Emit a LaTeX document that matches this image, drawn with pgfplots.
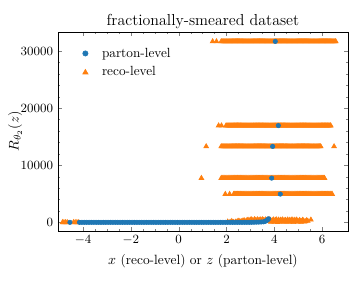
\documentclass[border=0pt]{standalone}
\usepackage{pgfplots}
\usepackage{pgfplotstable}
\pgfplotsset{compat=1.18}
\definecolor{mplblue}{HTML}{1F77B4}
\definecolor{mplorange}{HTML}{FF7F0E}

% reco-level points near R = 0
\pgfplotstableread{
x y
-4.86 0
-4.80 0
-4.73 0
-4.66 0
-4.40 0
-4.33 0
-4.26 0
-4.20 0
2.05 120
2.15 60
2.22 200
2.30 40
2.38 90
2.45 180
2.52 260
2.58 100
2.63 150
2.69 300
2.74 330
2.78 120
2.82 220
2.86 380
2.90 420
2.94 180
2.97 300
3.00 450
3.04 480
3.07 250
3.10 380
3.14 150
3.17 520
3.20 300
3.23 420
3.27 200
3.30 500
3.33 280
3.36 350
3.40 450
3.43 470
3.47 220
3.50 520
3.53 320
3.56 400
3.60 180
3.63 480
3.66 300
3.70 350
3.73 500
3.77 250
3.80 450
3.83 420
3.86 80
3.88 150
3.91 350
3.94 300
3.97 480
4.00 80
4.03 250
4.05 380
4.08 500
4.11 200
4.14 40
4.17 450
4.20 300
4.23 100
4.26 420
4.29 320
4.32 200
4.35 480
4.38 60
4.41 180
4.44 350
4.47 400
4.50 120
4.53 260
4.56 460
4.59 60
4.62 300
4.65 430
4.68 150
4.71 300
4.74 480
4.77 150
4.80 30
4.83 420
4.86 200
4.89 250
4.92 450
4.95 360
4.98 100
5.02 120
5.05 380
5.08 280
5.12 50
5.15 180
5.18 400
5.22 300
5.26 100
5.30 150
5.35 350
5.40 250
5.53 450
}\recobottom

% reco-level points in the five upper bands (nan = no point)
\pgfplotstableread{
x A B C D E
1.78 31700 nan 13300 7750 nan
1.82 31700 nan 13300 7750 nan
1.86 31700 nan 13300 7750 nan
1.90 31700 nan 13300 7750 nan
1.94 31700 nan 13300 7750 nan
1.98 31700 16950 13300 7750 nan
2.02 31700 16950 13300 7750 nan
2.06 31700 16950 13300 7750 nan
2.10 31700 16950 13300 7750 nan
2.14 31700 16950 13300 7750 nan
2.18 31700 16950 13300 7750 nan
2.22 31700 16950 13300 7750 nan
2.26 31700 16950 13300 7750 nan
2.30 31700 16950 13300 7750 4950
2.34 31700 16950 13300 7750 4950
2.38 31700 16950 13300 7750 4950
2.42 31700 16950 13300 7750 4950
2.46 31700 16950 13300 7750 4950
2.50 31700 16950 13300 7750 4950
2.54 31700 16950 13300 7750 4950
2.58 31700 16950 13300 7750 4950
2.62 31700 16950 13300 7750 4950
2.66 31700 16950 13300 7750 4950
2.70 31700 16950 13300 7750 4950
2.74 31700 16950 13300 7750 4950
2.78 31700 16950 13300 7750 4950
2.82 31700 16950 13300 7750 4950
2.86 31700 16950 13300 7750 4950
2.90 31700 16950 13300 7750 4950
2.94 31700 16950 13300 7750 4950
2.98 31700 16950 13300 7750 4950
3.02 31700 16950 13300 7750 4950
3.06 31700 16950 13300 7750 4950
3.10 31700 16950 13300 7750 4950
3.14 31700 16950 13300 7750 4950
3.18 31700 16950 13300 7750 4950
3.22 31700 16950 13300 7750 4950
3.26 31700 16950 13300 7750 4950
3.30 31700 16950 13300 7750 4950
3.34 31700 16950 13300 7750 4950
3.38 31700 16950 13300 7750 4950
3.42 31700 16950 13300 7750 4950
3.46 31700 16950 13300 7750 4950
3.50 31700 16950 13300 7750 4950
3.54 31700 16950 13300 7750 4950
3.58 31700 16950 13300 7750 4950
3.62 31700 16950 13300 7750 4950
3.66 31700 16950 13300 7750 4950
3.70 31700 16950 13300 7750 4950
3.74 31700 16950 13300 7750 4950
3.78 31700 16950 13300 7750 4950
3.82 31700 16950 13300 7750 4950
3.86 31700 16950 13300 7750 4950
3.90 31700 16950 13300 7750 4950
3.94 31700 16950 13300 7750 4950
3.98 31700 16950 13300 7750 4950
4.02 31700 16950 13300 7750 4950
4.06 31700 16950 13300 7750 4950
4.10 31700 16950 13300 7750 4950
4.14 31700 16950 13300 7750 4950
4.18 31700 16950 13300 7750 4950
4.22 31700 16950 13300 7750 4950
4.26 31700 16950 13300 7750 4950
4.30 31700 16950 13300 7750 4950
4.34 31700 16950 13300 7750 4950
4.38 31700 16950 13300 7750 4950
4.42 31700 16950 13300 7750 4950
4.46 31700 16950 13300 7750 4950
4.50 31700 16950 13300 7750 4950
4.54 31700 16950 13300 7750 4950
4.58 31700 16950 13300 7750 4950
4.62 31700 16950 13300 7750 4950
4.66 31700 16950 13300 7750 4950
4.70 31700 16950 13300 7750 4950
4.74 31700 16950 13300 7750 4950
4.78 31700 16950 13300 7750 4950
4.82 31700 16950 13300 7750 4950
4.86 31700 16950 13300 7750 4950
4.90 31700 16950 13300 7750 4950
4.94 31700 16950 13300 7750 4950
4.98 31700 16950 13300 7750 4950
5.02 31700 16950 13300 7750 4950
5.06 31700 16950 13300 7750 4950
5.10 31700 16950 13300 7750 4950
5.14 31700 16950 13300 7750 4950
5.18 31700 16950 13300 7750 4950
5.22 31700 16950 13300 7750 4950
5.26 31700 16950 13300 7750 4950
5.30 31700 16950 13300 7750 4950
5.34 31700 16950 13300 7750 4950
5.38 31700 16950 13300 7750 4950
5.42 31700 16950 13300 7750 4950
5.46 31700 16950 13300 7750 4950
5.50 31700 16950 13300 7750 4950
5.54 31700 16950 13300 7750 4950
5.58 31700 16950 13300 7750 4950
5.62 31700 16950 13300 7750 4950
5.66 31700 16950 13300 7750 4950
5.70 31700 16950 13300 7750 4950
5.74 31700 16950 13300 7750 4950
5.78 31700 16950 13300 7750 4950
5.82 31700 16950 13300 7750 4950
5.86 31700 16950 13300 7750 4950
5.90 31700 16950 13300 7750 4950
5.94 31700 16950 13300 7750 4950
5.98 31700 16950 nan 7750 4950
6.02 31700 16950 nan 7750 4950
6.06 31700 16950 nan 7750 4950
6.10 31700 16950 nan 7750 4950
6.14 31700 16950 nan nan 4950
6.18 31700 16950 nan nan 4950
6.22 31700 16950 nan nan 4950
6.26 31700 16950 nan nan 4950
6.30 31700 16950 nan nan 4950
6.34 31700 16950 nan nan 4950
6.38 31700 nan nan nan 4950
6.42 31700 nan nan nan 4950
6.46 31700 nan nan nan nan
6.50 31700 nan nan nan nan
6.54 31700 nan nan nan nan
}\recobands

% isolated reco-level points beside the bands
\pgfplotstableread{
x y
1.42 31700
1.58 31700
6.57 31700
1.67 16950
1.79 16950
6.36 16950
1.15 13300
6.50 13300
0.95 7750
1.95 4950
2.13 4950
}\recoiso

\pgfplotstableread{
x y
-4.55 0
-4.15 0
-4.05 0
-3.95 0
-3.85 0
-3.75 0
-3.65 0
-3.55 0
-3.45 0
-3.35 0
-3.25 0
-3.15 0
-3.05 0
-2.95 0
-2.85 0
-2.75 0
-2.65 0
-2.55 0
-2.45 0
-2.35 0
-2.25 0
-2.15 0
-2.05 0
-1.95 0
-1.85 0
-1.75 0
-1.65 0
-1.55 0
-1.45 0
-1.35 0
-1.25 0
-1.15 0
-1.05 0
-0.95 0
-0.85 0
-0.75 0
-0.65 0
-0.55 0
-0.45 0
-0.35 0
-0.25 0
-0.15 0
-0.05 0
0.05 0
0.15 0
0.25 0
0.35 0
0.45 0
0.55 0
0.65 0
0.75 0
0.85 0
0.95 0
1.05 0
1.15 0
1.25 0
1.35 0
1.45 0
1.55 0
1.65 0
1.75 0
1.85 0
1.95 0
2.05 0
2.15 0
2.25 0
2.35 0
2.45 0
2.55 0
2.65 0
2.75 0
2.85 0
2.95 0
3.05 10
3.15 20
3.25 30
3.35 40
3.45 60
3.55 90
3.62 180
3.68 320
3.73 480
3.76 620
4.04 31700
4.17 16950
3.93 13300
3.89 7750
4.25 4950
}\parton

\begin{document}
\begin{tikzpicture}
\useasboundingbox (-41.5pt,-35.8pt) rectangle (210.5pt,165.3pt);
\begin{axis}[
  at={(0,0)}, anchor=south west,
  width=207.6pt, height=142.4pt, scale only axis,
  xmin=-5.05, xmax=7.08, ymin=-1500, ymax=33350,
  xtick={-4,-2,0,2,4,6}, ytick={0,10000,20000,30000},
  minor x tick num=3, minor y tick num=4,
  tick align=inside, xtick pos=both, ytick pos=both,
  xticklabel pos=lower, yticklabel pos=left,
  major tick length=3pt, minor tick length=1.6pt,
  scaled y ticks=false,
  yticklabel style={/pgf/number format/.cd, fixed, 1000 sep={}},
  tick label style={font=\fontsize{9}{10}\selectfont},
  label style={font=\fontsize{9.6}{11}\selectfont},
  title={fractionally-smeared dataset},
  title style={font=\fontsize{11.4}{13}\selectfont, yshift=-7.5pt},
  xlabel={$x$ (reco-level) or $z$ (parton-level)},
  ylabel={$R_{\theta_2}(z)$},
  ylabel style={at={(axis description cs:-0.148,0.5)}, anchor=center},
  legend style={at={(0.07,0.95)}, anchor=north west, draw=none, fill=none,
    font=\fontsize{9.5}{11}\selectfont, row sep=1.5pt,
    /tikz/every odd column/.append style={column sep=8pt}},
  legend cell align=left,
]
\addlegendimage{only marks, mark=*, mark size=1.9pt, mplblue}
\addlegendentry{parton-level}
\addlegendimage{only marks, mark=triangle*, mark size=2.2pt, mplorange}
\addlegendentry{reco-level}
\pgfplotsset{reco/.style={forget plot, only marks, mark=triangle*, mark size=2pt, mplorange}}
\addplot[reco] table[x=x,y=y] {\recobottom};
\addplot[reco] table[x=x,y=A] {\recobands};
\addplot[reco] table[x=x,y=B] {\recobands};
\addplot[reco] table[x=x,y=C] {\recobands};
\addplot[reco] table[x=x,y=D] {\recobands};
\addplot[reco] table[x=x,y=E] {\recobands};
\addplot[reco] table[x=x,y=y] {\recoiso};
\addplot[forget plot, only marks, mark=*, mark size=1.6pt, mplblue] table[x=x,y=y] {\parton};
\end{axis}
\end{tikzpicture}
\end{document}
